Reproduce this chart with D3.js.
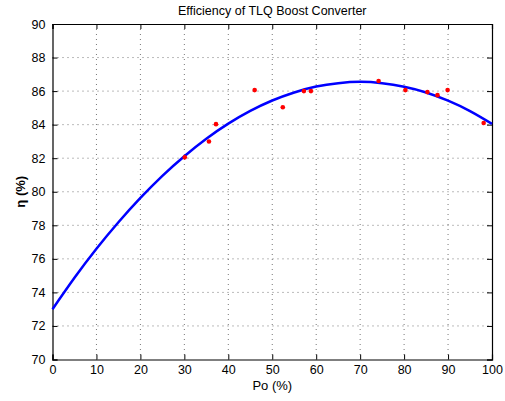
<!DOCTYPE html>
<html lang="en">
<head>
<meta charset="UTF-8">
<script src="https://cdnjs.cloudflare.com/ajax/libs/d3/7.8.5/d3.min.js"></script>
<title>Efficiency of TLQ Boost Converter</title>
<style>
    body { margin: 0; background: #fff; }
    svg text { font-family: 'Liberation Sans', Arial, sans-serif; fill: #000; }
    .grid line { stroke: #777; stroke-dasharray: 1,4; }
</style>
</head>
<body>
<svg></svg>
<script>
    // measured points
    const measPo = [30.1, 35.6, 37.2, 46.0, 52.4, 57.2, 58.8, 74.2, 80.3, 85.3, 87.6, 89.9, 98.1]
    const measEff = [82.05, 83.0, 84.03, 86.06, 85.04, 86.0, 86.0, 86.6, 86.06, 85.94, 85.76, 86.06, 84.1]

    const fitPo = [0, 5, 10, 15, 20, 25, 30, 35, 40, 45, 50, 55, 60, 65, 70, 75, 80, 85, 90, 95, 100]
    const fitEff = [73.0, 74.87, 76.6, 78.18, 79.63, 80.95, 82.12, 83.16, 84.06, 84.82, 85.44,
        85.92, 86.27, 86.47, 86.55, 86.47, 86.26, 85.92, 85.43, 84.81, 84.05]

    const xTicks = [0, 10, 20, 30, 40, 50, 60, 70, 80, 90, 100]
    const yTicks = [70, 72, 74, 76, 78, 80, 82, 84, 86, 88, 90]

    const W = 505, H = 401
    const margin = { top: 24, right: 13, bot: 41.5, left: 52.5 }

    const svg = d3.select('svg').attr('width', W).attr('height', H)

    const x = d3.scaleLinear().domain([0, 100]).range([margin.left, W - margin.right])
    const y = d3.scaleLinear().domain([70, 90]).range([H - margin.bot, margin.top])

    // grid
    const grid = svg.append('g').attr('class', 'grid')
    grid.selectAll('.gx').data(xTicks.slice(1, -1)).enter().append('line')
        .attr('x1', d => x(d)).attr('x2', d => x(d))
        .attr('y1', y(90)).attr('y2', y(70))
    grid.selectAll('.gy').data(yTicks.slice(1, -1)).enter().append('line')
        .attr('x1', x(0)).attr('x2', x(100))
        .attr('y1', d => y(d)).attr('y2', d => y(d))

    // axes, ticks inside
    const tl = 5
    svg.append('g')
        .attr('transform', 'translate(0,' + y(70) + ')')
        .call(d3.axisBottom(x).tickValues(xTicks).tickSize(-tl).tickPadding(tl + 1))
    svg.append('g')
        .attr('transform', 'translate(0,' + y(90) + ')')
        .call(d3.axisTop(x).tickValues(xTicks).tickSize(-tl).tickFormat(''))
    svg.append('g')
        .attr('transform', 'translate(' + x(0) + ',0)')
        .call(d3.axisLeft(y).tickValues(yTicks).tickSize(-tl).tickPadding(tl + 2))
    svg.append('g')
        .attr('transform', 'translate(' + x(100) + ',0)')
        .call(d3.axisRight(y).tickValues(yTicks).tickSize(-tl).tickFormat(''))

    svg.selectAll('.domain').attr('stroke', '#000').attr('stroke-width', 1.2)
    svg.selectAll('.tick line').attr('stroke', '#000')
    svg.selectAll('.tick text').style('font-size', '12.5px').attr('fill', '#000')

    // fitted curve
    const line = d3.line()
        .x((d, i) => x(fitPo[i]))
        .y((d, i) => y(fitEff[i]))
        .curve(d3.curveNatural)
    svg.append('path')
        .datum(fitPo)
        .attr('d', line)
        .attr('fill', 'none')
        .attr('stroke', '#0000ff')
        .attr('stroke-width', 2.5)

    // measured points
    svg.selectAll('.pt').data(measPo).enter().append('circle')
        .attr('cx', d => x(d))
        .attr('cy', (d, i) => y(measEff[i]))
        .attr('r', 2.3)
        .attr('fill', '#ff0000')

    // labels
    svg.append('text')
        .attr('x', x(50)).attr('y', 15)
        .attr('text-anchor', 'middle')
        .style('font-size', '12.5px')
        .text('Efficiency of TLQ Boost Converter')

    svg.append('text')
        .attr('x', x(50)).attr('y', 389.5)
        .attr('text-anchor', 'middle')
        .style('font-size', '13px')
        .text('Po (%)')

    svg.append('text')
        .attr('transform', 'translate(25,' + y(80) + ') rotate(-90)')
        .attr('text-anchor', 'middle')
        .style('font-size', '13px')
        .style('font-weight', 'bold')
        .text('η (%)')
</script>
</body>
</html>
